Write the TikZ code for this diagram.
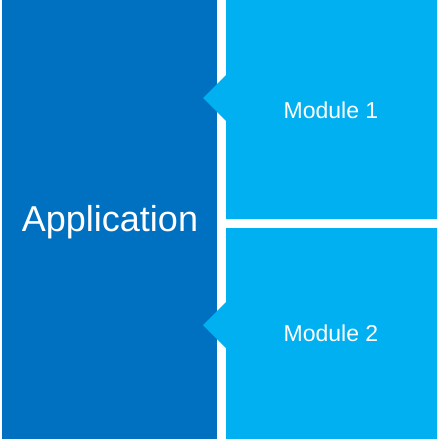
\documentclass[tikz,border=0pt]{standalone}
\usepackage{fontspec}
\setmainfont{Liberation Sans}
\definecolor{appblue}{HTML}{0070C0}
\definecolor{modblue}{HTML}{00B0F0}
\begin{document}
\begin{tikzpicture}[x=1pt,y=-1pt,
  appbox/.style={fill=appblue},
  modbox/.style={fill=modblue},
  label/.style={text=white, inner sep=0pt}]
\useasboundingbox[fill=white] (0,0) rectangle (437,439);
% application block
\fill[appbox] (2,0) rectangle (217,439);
% module blocks with pointers towards the application
\fill[modbox] (226,0) -- (437,0) -- (437,219) -- (226,219) -- (226,121) -- (203,98) -- (226,75) -- cycle;
\fill[modbox] (226,228) -- (437,228) -- (437,439) -- (226,439) -- (226,348) -- (203,325) -- (226,302) -- cycle;
\node[label, font=\fontsize{36}{40}\selectfont] (app) at (110,222) {Application};
\node[label, font=\fontsize{23}{26}\selectfont] (mod1) at (331,110) {Module 1};
\node[label, font=\fontsize{23}{26}\selectfont] (mod2) at (331,333) {Module 2};
\end{tikzpicture}
\end{document}
